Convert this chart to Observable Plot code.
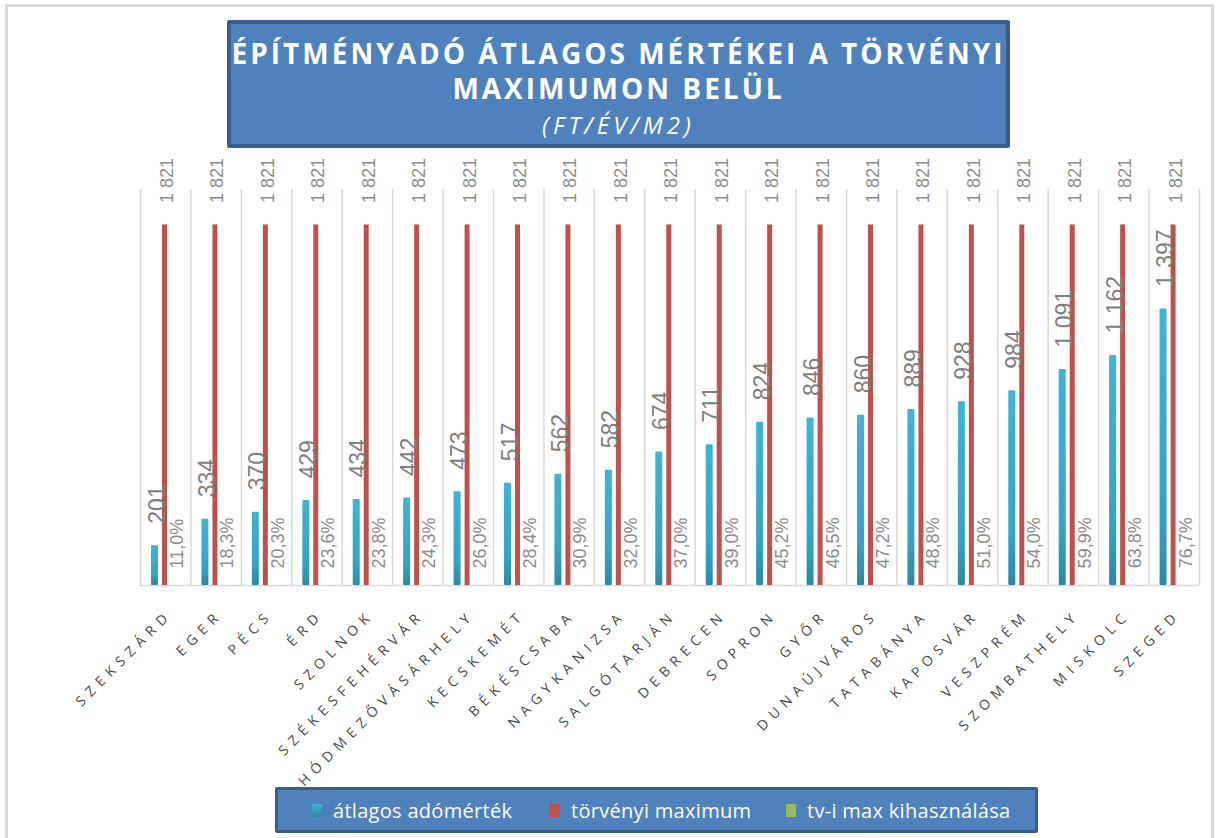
<!DOCTYPE html>
<html>
<head>
<meta charset="utf-8">
<script src="https://cdn.jsdelivr.net/npm/d3@7"></script>
<script src="https://cdn.jsdelivr.net/npm/@observablehq/plot@0.6"></script>
<style>
  html, body { margin: 0; padding: 0; background: #fff; }
  #page { position: relative; width: 1218px; height: 838px; overflow: hidden; font-family: "Open Sans", sans-serif; }
  #frame { position: absolute; left: 5px; top: 4px; width: 1209px; height: 850px; border: 3px solid #d9d9d9; box-sizing: border-box; }
  #title { position: absolute; left: 227px; top: 20px; width: 783px; height: 128px; box-sizing: border-box;
           background: #4f81bd; border: 4px solid #385d8a; border-radius: 2px; color: #fff; text-align: center; z-index: 2; }
  #title .l { font-weight: 700; font-size: 28px; letter-spacing: 3px; line-height: 35px; white-space: nowrap; }
  #title .l1 { margin-top: 12px; }
  #title .l3 { font-style: italic; font-weight: 400; font-size: 24px; letter-spacing: 4px; line-height: 38px; }
  #chart { position: absolute; left: 0; top: 0; z-index: 1; }
  #legend { position: absolute; left: 275px; top: 787px; width: 763px; height: 46px; box-sizing: border-box;
            background: #4f81bd; border: 3px solid #385d8a; border-radius: 2px; z-index: 2;
            color: #fff; font-size: 20px; letter-spacing: 0.3px; }
  #legend .it { position: absolute; display: flex; align-items: center; top: 0; bottom: 0; white-space: nowrap; }
  #legend .sw { width: 10px; height: 13px; margin-right: 11px; }
  svg [aria-label="x-axis tick label"] text { letter-spacing: 6px; font-size: 14px; }
</style>
</head>
<body>
<div id="page">
  <div id="frame"></div>
  <div id="title">
    <div class="l l1">ÉPÍTMÉNYADÓ ÁTLAGOS MÉRTÉKEI A TÖRVÉNYI</div>
    <div class="l">MAXIMUMON BELÜL</div>
    <div class="l l3">(FT/ÉV/M2)</div>
  </div>
  <div id="chart"></div>
  <div id="legend"></div>
</div>
<script>
const cities = ["SZEKSZÁRD","EGER","PÉCS","ÉRD","SZOLNOK","SZÉKESFEHÉRVÁR","HÓDMEZŐVÁSÁRHELY","KECSKEMÉT","BÉKÉSCSABA","NAGYKANIZSA","SALGÓTARJÁN","DEBRECEN","SOPRON","GYŐR","DUNAÚJVÁROS","TATABÁNYA","KAPOSVÁR","VESZPRÉM","SZOMBATHELY","MISKOLC","SZEGED"];
const atlagos = [201,334,370,429,434,442,473,517,562,582,674,711,824,846,860,889,928,984,1091,1162,1397];
const maximum = [1821,1821,1821,1821,1821,1821,1821,1821,1821,1821,1821,1821,1821,1821,1821,1821,1821,1821,1821,1821,1821];
const kihasznalas = [0.110,0.183,0.203,0.236,0.238,0.243,0.260,0.284,0.309,0.320,0.370,0.390,0.452,0.465,0.472,0.488,0.510,0.540,0.599,0.638,0.767];
const seriesNames = ["átlagos adómérték","törvényi maximum","tv-i max kihasználása"];
const seriesColors = ["#38a9c9","#c0504d","#9bbb59"];

const rows = cities.map((c, i) => ({city: c, a: atlagos[i], m: maximum[i], k: kihasznalas[i]}));
const fmtInt = v => d3.format(",")(v).replace(/,/g, " ");
const fmtPct = v => (v * 100).toFixed(1).replace(".", ",") + "%";

const W = 1218, left = 140, right = 1199;
const bw = (right - left) / cities.length;

const defs = () => {
  const ns = "http://www.w3.org/2000/svg";
  const d = document.createElementNS(ns, "defs");
  d.innerHTML = `<linearGradient id="blueGrad" x1="0" y1="0" x2="0" y2="1">
      <stop offset="0" stop-color="#3fb4d6"/><stop offset="0.75" stop-color="#34a3c3"/><stop offset="1" stop-color="#2a89a5"/>
    </linearGradient>`;
  return d;
};

const plot = Plot.plot({
  width: W, height: 790,
  marginLeft: left, marginRight: W - right, marginTop: 189, marginBottom: 790 - 585,
  x: {domain: cities, padding: 0, type: "band", round: false},
  y: {domain: [0, 2000], axis: null},
  style: {fontFamily: "Liberation Sans, Arial, sans-serif", background: "transparent"},
  marks: [
    defs,
    Plot.ruleX(cities, {x: d => d, dx: -bw / 2, y1: 0, y2: 2000, stroke: "#d9d9d9", strokeWidth: 1.5}),
    Plot.ruleX([cities[cities.length - 1]], {x: d => d, dx: bw / 2, y1: 0, y2: 2000, stroke: "#d9d9d9", strokeWidth: 1.5}),
    Plot.ruleY([0], {stroke: "#d9d9d9", strokeWidth: 1.5}),
    Plot.barY(rows, {x: "city", y: "a", fill: "url(#blueGrad)", insetLeft: 11, insetRight: bw - 18, rx: 1}),
    Plot.barY(rows, {x: "city", y: "m", fill: seriesColors[1], insetLeft: 22, insetRight: bw - 27}),
    Plot.barY(rows, {x: "city", y: "k", fill: seriesColors[2], insetLeft: 32, insetRight: bw - 37}),
    Plot.text(rows, {x: "city", y: "a", text: d => fmtInt(d.a), rotate: -90, textAnchor: "start", lineAnchor: "middle",
                     dx: -8.5, dy: -22, fontSize: 23, fill: "#7f7f7f"}),
    Plot.text(rows, {x: "city", y: "m", text: d => fmtInt(d.m), rotate: -90, textAnchor: "start", lineAnchor: "middle",
                     dx: 1.5, dy: -22, fontSize: 18, fill: "#8c8c8c"}),
    Plot.text(rows, {x: "city", y: "k", text: d => fmtPct(d.k), rotate: -90, textAnchor: "start", lineAnchor: "middle",
                     dx: 11.5, dy: -17, fontSize: 18, fill: "#8c8c8c"}),
    Plot.axisX({tickRotate: -45, tickSize: 0, tickPadding: 27, fontSize: 14, fill: "#4a4a4a",
                fontFamily: "Open Sans, sans-serif", label: null, dx: 4})
  ]
});
document.getElementById("chart").appendChild(plot);

const legend = document.getElementById("legend");
const legendX = [34, 272, 508];
seriesNames.forEach((n, i) => {
  const it = document.createElement("div");
  it.className = "it";
  it.style.left = legendX[i] + "px";
  const sw = document.createElement("span");
  sw.className = "sw";
  sw.style.background = i === 0 ? "linear-gradient(#3fb4d6, #2a89a5)" : seriesColors[i];
  const tx = document.createElement("span");
  tx.textContent = n;
  it.appendChild(sw); it.appendChild(tx);
  legend.appendChild(it);
});
</script>
</body>
</html>
